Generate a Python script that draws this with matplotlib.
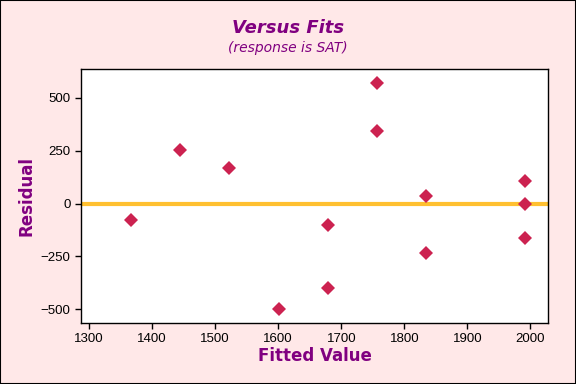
import numpy as np
import matplotlib.pyplot as plt

# fitted values and residuals
fitted = [1366, 1444, 1522, 1601, 1679, 1679, 1757, 1757, 1835, 1835, 1991, 1991, 1991]
residual = [-79, 251, 166, -500, -103, -401, 568, 341, 35, -235, 105, -2, -165]

bg = '#ffe8e8'
purple = '#800080'

fig = plt.figure(figsize=(5.76, 3.84), dpi=100, facecolor=bg)
fig.patches.append(plt.Rectangle((0, 0), 1, 1, transform=fig.transFigure,
                                 fill=False, edgecolor='black', linewidth=1.5))
ax = fig.add_axes([81 / 576, 1 - 323 / 384, 467 / 576, 254 / 384])
ax.set_facecolor('white')

ax.axhline(0, color='#ffc030', linewidth=3, zorder=1)
ax.plot(fitted, residual, 'D', color='#cc2250', markersize=7.5, markeredgewidth=0, zorder=2)

ax.set_xlim(1287, 2028)
ax.set_ylim(-565, 636)
ax.set_xticks(np.arange(1300, 2001, 100))
ax.set_yticks([-500, -250, 0, 250, 500])
ax.tick_params(length=4, width=1, colors='black')
for lab in ax.get_xticklabels() + ax.get_yticklabels():
    lab.set_fontfamily('Liberation Sans')
    lab.set_fontsize(9.5)
for s in ax.spines.values():
    s.set_linewidth(1)

ax.set_xlabel('Fitted Value', fontsize=12, fontweight='bold', color=purple, labelpad=1)
ax.set_ylabel('Residual', fontsize=12, fontweight='bold', color=purple, labelpad=4)

fig.text(0.5, 1 - 28 / 384, 'Versus Fits', ha='center', va='center', fontsize=13,
         fontweight='bold', fontstyle='italic', color=purple)
fig.text(0.5, 1 - 48 / 384, '(response is SAT)', ha='center', va='center', fontsize=10,
         fontstyle='italic', color=purple)

fig.savefig('out.png', dpi=100, facecolor=bg)
